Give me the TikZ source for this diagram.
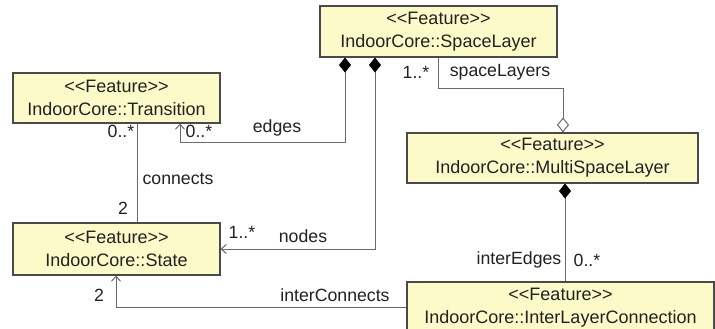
\documentclass[tikz,border=0pt]{standalone}
\usepackage{fontspec}
\setmainfont{Liberation Sans}
\usetikzlibrary{arrows.meta}
\definecolor{boxfill}{HTML}{FCFAC9}
\definecolor{boxline}{HTML}{4A4A4A}
\definecolor{conn}{HTML}{6A6A6A}
\definecolor{txt}{HTML}{222222}
\newcommand\stereotag[1]{<\kern0pt<#1>\kern0pt>}
\tikzset{
  cls/.style={draw=boxline, line width=1.1pt, fill=boxfill, align=center,
    inner sep=0pt, text=txt, font=\fontsize{18}{23}\selectfont},
  lbl/.style={inner sep=0pt, text=txt, font=\fontsize{17.7}{20}\selectfont},
  link/.style={draw=conn, line width=1pt},
  comp/.style={link, {Diamond[length=15pt,width=12pt,fill=black,color=black]}-},
  aggr/.style={link, -{Diamond[length=15pt,width=12pt,open,fill=white]}},
  nav/.style={link, -{Straight Barb[length=5pt,width=9pt,line width=1pt]}},
  compnav/.style={link, {Diamond[length=15pt,width=12pt,fill=black,color=black]}-{Straight Barb[length=5pt,width=9pt,line width=1pt]}}
}
\begin{document}
\begin{tikzpicture}[x=1pt,y=-1pt]
\useasboundingbox (0,0) rectangle (715,329);
\clip (0,0) rectangle (715,329);
\fill[white] (0,0) rectangle (715,329);

\node[cls, minimum width=237pt, minimum height=51pt] (SL) at (438.5,31.5) {\stereotag{Feature}\\IndoorCore::SpaceLayer};
\node[cls, minimum width=207pt, minimum height=50pt] (TR) at (116.5,98) {\stereotag{Feature}\\IndoorCore::Transition};
\node[cls, minimum width=207pt, minimum height=52pt] (ST) at (116.5,249) {\stereotag{Feature}\\IndoorCore::State};
\node[cls, minimum width=291pt, minimum height=50pt] (MSL) at (552.5,158) {\stereotag{Feature}\\IndoorCore::MultiSpaceLayer};
\node[cls, minimum width=307pt, minimum height=51pt] (ILC) at (560.5,307.5) {\stereotag{Feature}\\IndoorCore::InterLayerConnection};

% edges
\draw[compnav] ([xshift=-93.5]SL.south) -- ++(0,85) -| ([xshift=63.5]TR.south);
% nodes
\draw[compnav] ([xshift=-63.5]SL.south) |- (ST.east);
% spaceLayers
\draw[aggr] (SL.south) -- ++(0,31) -| ([xshift=10.5]MSL.north);
% connects
\draw[link] ([xshift=20.5]TR.south) -- ([xshift=20.5]ST.north);
% interEdges
\draw[comp] ([xshift=12.5]MSL.south) -- ([xshift=12.5]MSL.south |- ILC.north);
% interConnects
\draw[nav] (ILC.west) -| ([xshift=-0.5]ST.south);

\node[lbl] (l1) at (199,131) {0..*};
\node[lbl] (l2) at (277,128) {edges};
\node[lbl] (l3) at (121,131) {0..*};
\node[lbl] (l4) at (178,179) {connects};
\node[lbl] (l5) at (123,208) {2};
\node[lbl] (l6) at (242,232) {1..*};
\node[lbl] (l7) at (303,236) {nodes};
\node[lbl] (l8) at (99,295) {2};
\node[lbl] (l9) at (335,295) {interConnects};
\node[lbl] (l10) at (416,72) {1..*};
\node[lbl] (l11) at (500,72) {spaceLayers};
\node[lbl] (l12) at (519,260) {interEdges};
\node[lbl] (l13) at (587,260) {0..*};
\end{tikzpicture}
\end{document}
